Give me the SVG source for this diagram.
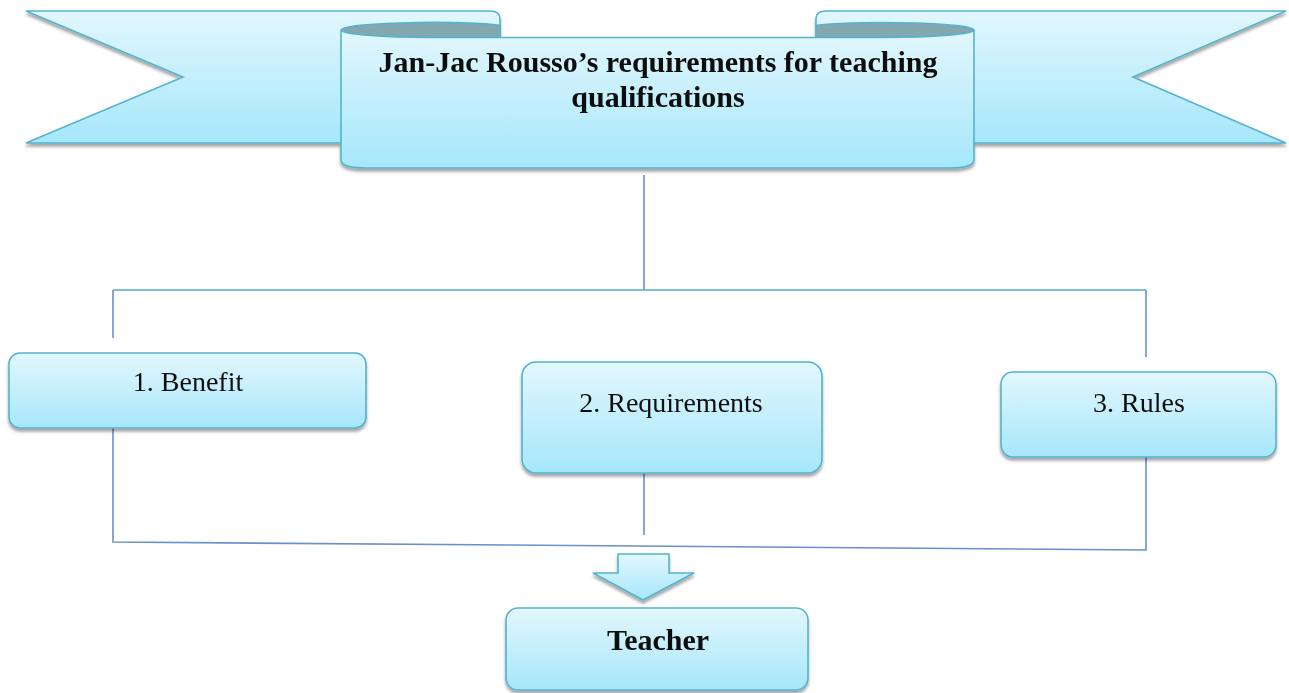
<svg xmlns="http://www.w3.org/2000/svg" width="1289" height="693" viewBox="0 0 1289 693">
<defs>
<linearGradient id="g" x1="0" y1="0" x2="0" y2="1">
<stop offset="0" stop-color="#e2f7fd"/>
<stop offset="1" stop-color="#a6e7fb"/>
</linearGradient>
<filter id="sh" x="-5%" y="-10%" width="110%" height="130%">
<feDropShadow dx="0" dy="3" stdDeviation="1.5" flood-color="#000" flood-opacity="0.35"/>
</filter>
<style>
.shape{fill:url(#g);stroke:#55b3cd;stroke-width:1.6}
.fold{fill:#84a8b0;stroke:#55b3cd;stroke-width:1.6}
.lbl{font-family:"Liberation Serif","Times New Roman",serif;font-size:28px;fill:#111;text-anchor:middle}
.ttl{font-family:"Liberation Serif","Times New Roman",serif;font-size:30px;font-weight:bold;fill:#111;text-anchor:middle}
.c1{fill:none;stroke:#6a8fcf;stroke-width:1.6}
.c2{fill:none;stroke:#4eaecb;stroke-width:1.6}
</style>
</defs>
<rect width="1289" height="693" fill="#fff"/>

<g id="title" filter="url(#sh)">
<path class="shape" d="M26,11 L490,11 Q500,11 500,19 L500,143 L26,143 L183,77 Z"/>
<path class="shape" d="M816,19 Q816,11 826,11 L1286,11 L1133,77 L1286,143 L816,143 Z"/>
<path class="fold" d="M341,30 A90,7.5 0 0 1 500,25.2 L500,37.5 L431,37.5 A90,7.5 0 0 1 341,30 Z"/>
<path class="fold" d="M974,30 A90,7.5 0 0 0 816,25.2 L816,37.5 L884,37.5 A90,7.5 0 0 0 974,30 Z"/>
<path class="shape" d="M341,30 A90,7.5 0 0 0 431,37.5 L884,37.5 A90,7.5 0 0 0 974,30 L974,160 C974,166 962,168 950,168 L365,168 C353,168 341,166 341,160 Z"/>
<text class="ttl" x="658" y="72" font-size="29.7">Jan-Jac Rousso’s requirements for teaching</text>
<text class="ttl" x="658" y="107">qualifications</text>
</g>

<g id="connectors">
<path class="c1" d="M644,175 L644,290"/>
<path class="c2" d="M113,290 L1146,290"/>
<path class="c1" d="M113,290 L113,338"/>
<path class="c1" d="M1146,290 L1146,357"/>
<path class="c1" d="M113,428 L113,542 L1146,550 L1146,457"/>
<path class="c1" d="M644,473 L644,535"/>
</g>

<g id="benefit" filter="url(#sh)">
<rect class="shape" x="9" y="353" width="357" height="75" rx="11"/>
<text class="lbl" x="188" y="391">1. Benefit</text>
</g>

<g id="requirements" filter="url(#sh)">
<rect class="shape" x="522" y="362" width="300" height="111" rx="14"/>
<text class="lbl" x="671" y="412">2. Requirements</text>
</g>

<g id="rules" filter="url(#sh)">
<rect class="shape" x="1001" y="372" width="275" height="85" rx="12"/>
<text class="lbl" x="1139" y="412">3. Rules</text>
</g>

<g id="arrow" filter="url(#sh)">
<path class="shape" d="M618,554 L669,554 L669,573 L694,573 L643,600 L593,573 L618,573 Z"/>
</g>

<g id="teacher" filter="url(#sh)">
<rect class="shape" x="506" y="608" width="302" height="82" rx="12"/>
<text class="ttl" x="658" y="650">Teacher</text>
</g>
</svg>
